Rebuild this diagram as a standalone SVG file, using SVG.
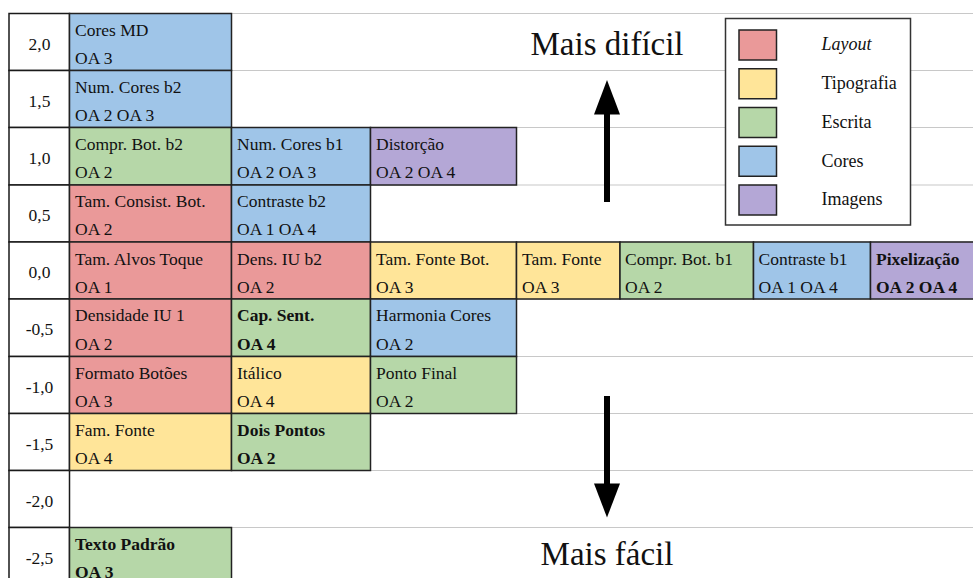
<svg xmlns="http://www.w3.org/2000/svg" width="973" height="578" viewBox="0 0 973 578">
  <defs>
    <style>
      text { font-family: "Liberation Serif", "Times New Roman", serif; fill: #111; }
      .t { font-size: 17.5px; }
      .b { font-weight: bold; }
      .lbl { font-size: 17.5px; text-anchor: middle; }
      .big { font-size: 33px; text-anchor: middle; }
      .leg { font-size: 18px; }
      .grid { stroke: #c8c8c8; stroke-width: 1.2; }
      .axis { fill: #fff; stroke: #1a1a1a; stroke-width: 1.5; }
      .cell rect { stroke: #222; stroke-width: 1.5; }
      .lay { fill: #ea9999; }
      .typ { fill: #ffe599; }
      .esc { fill: #b6d7a8; }
      .cor { fill: #9fc5e8; }
      .img { fill: #b4a7d6; }
      .sw { stroke: #222; stroke-width: 1.5; }
      .arrow { fill: #000; }
    </style>
  </defs>

  <rect width="973" height="578" fill="#fff"/>

  <!-- grid lines -->
  <g id="grid">
    <line class="grid" x1="69.5" y1="13.5" x2="973" y2="13.5"/>
    <line class="grid" x1="69.5" y1="70.5" x2="973" y2="70.5"/>
    <line class="grid" x1="69.5" y1="127.5" x2="973" y2="127.5"/>
    <line class="grid" x1="69.5" y1="185" x2="973" y2="185"/>
    <line class="grid" x1="69.5" y1="242" x2="973" y2="242"/>
    <line class="grid" x1="69.5" y1="299" x2="973" y2="299"/>
    <line class="grid" x1="69.5" y1="356.5" x2="973" y2="356.5"/>
    <line class="grid" x1="69.5" y1="413.5" x2="973" y2="413.5"/>
    <line class="grid" x1="69.5" y1="470.5" x2="973" y2="470.5"/>
    <line class="grid" x1="69.5" y1="527.5" x2="973" y2="527.5"/>
  </g>

  <!-- scale column -->
  <g id="scale">
    <rect class="axis" x="9" y="13.5" width="60.5" height="57"/>
    <rect class="axis" x="9" y="70.5" width="60.5" height="57"/>
    <rect class="axis" x="9" y="127.5" width="60.5" height="57.5"/>
    <rect class="axis" x="9" y="185" width="60.5" height="57"/>
    <rect class="axis" x="9" y="242" width="60.5" height="57"/>
    <rect class="axis" x="9" y="299" width="60.5" height="57.5"/>
    <rect class="axis" x="9" y="356.5" width="60.5" height="57"/>
    <rect class="axis" x="9" y="413.5" width="60.5" height="57"/>
    <rect class="axis" x="9" y="470.5" width="60.5" height="57"/>
    <rect class="axis" x="9" y="527.5" width="60.5" height="60"/>
    <text class="lbl" x="39.5" y="49.5">2,0</text>
    <text class="lbl" x="39.5" y="106.5">1,5</text>
    <text class="lbl" x="39.5" y="163.5">1,0</text>
    <text class="lbl" x="39.5" y="221">0,5</text>
    <text class="lbl" x="39.5" y="278">0,0</text>
    <text class="lbl" x="39.5" y="335">-0,5</text>
    <text class="lbl" x="39.5" y="392.5">-1,0</text>
    <text class="lbl" x="39.5" y="449.5">-1,5</text>
    <text class="lbl" x="39.5" y="506.5">-2,0</text>
    <text class="lbl" x="39.5" y="563.5">-2,5</text>
  </g>

  <!-- row 2,0 -->
  <g id="cores-md" class="cell">
    <rect class="cor" x="69.5" y="13.5" width="162" height="57"/>
    <text class="t" x="75" y="35.5">Cores MD</text>
    <text class="t" x="75" y="63.5">OA 3</text>
  </g>

  <!-- row 1,5 -->
  <g id="num-cores-b2" class="cell">
    <rect class="cor" x="69.5" y="70.5" width="162" height="57"/>
    <text class="t" x="75" y="92.5">Num. Cores b2</text>
    <text class="t" x="75" y="120.5">OA 2 OA 3</text>
  </g>

  <!-- row 1,0 -->
  <g id="compr-bot-b2" class="cell">
    <rect class="esc" x="69.5" y="127.5" width="162" height="57.5"/>
    <text class="t" x="75" y="149.5">Compr. Bot. b2</text>
    <text class="t" x="75" y="177.5">OA 2</text>
  </g>
  <g id="num-cores-b1" class="cell">
    <rect class="cor" x="231.5" y="127.5" width="139" height="57.5"/>
    <text class="t" x="237" y="149.5">Num. Cores b1</text>
    <text class="t" x="237" y="177.5">OA 2 OA 3</text>
  </g>
  <g id="distorcao" class="cell">
    <rect class="img" x="370.5" y="127.5" width="146" height="57.5"/>
    <text class="t" x="376" y="149.5">Distorção</text>
    <text class="t" x="376" y="177.5">OA 2 OA 4</text>
  </g>

  <!-- row 0,5 -->
  <g id="tam-consist-bot" class="cell">
    <rect class="lay" x="69.5" y="185" width="162" height="57"/>
    <text class="t" x="75" y="207">Tam. Consist. Bot.</text>
    <text class="t" x="75" y="235">OA 2</text>
  </g>
  <g id="contraste-b2" class="cell">
    <rect class="cor" x="231.5" y="185" width="139" height="57"/>
    <text class="t" x="237" y="207">Contraste b2</text>
    <text class="t" x="237" y="235">OA 1 OA 4</text>
  </g>

  <!-- row 0,0 -->
  <g id="tam-alvos-toque" class="cell">
    <rect class="lay" x="69.5" y="242" width="162" height="57"/>
    <text class="t" x="75" y="264.5">Tam. Alvos Toque</text>
    <text class="t" x="75" y="292.5">OA 1</text>
  </g>
  <g id="dens-iu-b2" class="cell">
    <rect class="lay" x="231.5" y="242" width="139" height="57"/>
    <text class="t" x="237" y="264.5">Dens. IU b2</text>
    <text class="t" x="237" y="292.5">OA 2</text>
  </g>
  <g id="tam-fonte-bot" class="cell">
    <rect class="typ" x="370.5" y="242" width="146" height="57"/>
    <text class="t" x="376" y="264.5">Tam. Fonte Bot.</text>
    <text class="t" x="376" y="292.5">OA 3</text>
  </g>
  <g id="tam-fonte" class="cell">
    <rect class="typ" x="516.5" y="242" width="103.5" height="57"/>
    <text class="t" x="522" y="264.5">Tam. Fonte</text>
    <text class="t" x="522" y="292.5">OA 3</text>
  </g>
  <g id="compr-bot-b1" class="cell">
    <rect class="esc" x="620" y="242" width="133.5" height="57"/>
    <text class="t" x="625" y="264.5">Compr. Bot. b1</text>
    <text class="t" x="625" y="292.5">OA 2</text>
  </g>
  <g id="contraste-b1" class="cell">
    <rect class="cor" x="753.5" y="242" width="117" height="57"/>
    <text class="t" x="758.5" y="264.5">Contraste b1</text>
    <text class="t" x="758.5" y="292.5">OA 1 OA 4</text>
  </g>
  <g id="pixelizacao" class="cell">
    <rect class="img" x="870.5" y="242" width="110" height="57"/>
    <text class="t b" x="876" y="264.5">Pixelização</text>
    <text class="t b" x="876" y="292.5">OA 2 OA 4</text>
  </g>

  <!-- row -0,5 -->
  <g id="densidade-iu-1" class="cell">
    <rect class="lay" x="69.5" y="299" width="162" height="57.5"/>
    <text class="t" x="75" y="321">Densidade IU 1</text>
    <text class="t" x="75" y="349.5">OA 2</text>
  </g>
  <g id="cap-sent" class="cell">
    <rect class="esc" x="231.5" y="299" width="139" height="57.5"/>
    <text class="t b" x="237" y="321">Cap. Sent.</text>
    <text class="t b" x="237" y="349.5">OA 4</text>
  </g>
  <g id="harmonia-cores" class="cell">
    <rect class="cor" x="370.5" y="299" width="146" height="57.5"/>
    <text class="t" x="376" y="321">Harmonia Cores</text>
    <text class="t" x="376" y="349.5">OA 2</text>
  </g>

  <!-- row -1,0 -->
  <g id="formato-botoes" class="cell">
    <rect class="lay" x="69.5" y="356.5" width="162" height="57"/>
    <text class="t" x="75" y="378.5">Formato Botões</text>
    <text class="t" x="75" y="406.5">OA 3</text>
  </g>
  <g id="italico" class="cell">
    <rect class="typ" x="231.5" y="356.5" width="139" height="57"/>
    <text class="t" x="237" y="378.5">Itálico</text>
    <text class="t" x="237" y="406.5">OA 4</text>
  </g>
  <g id="ponto-final" class="cell">
    <rect class="esc" x="370.5" y="356.5" width="146" height="57"/>
    <text class="t" x="376" y="378.5">Ponto Final</text>
    <text class="t" x="376" y="406.5">OA 2</text>
  </g>

  <!-- row -1,5 -->
  <g id="fam-fonte" class="cell">
    <rect class="typ" x="69.5" y="413.5" width="162" height="57"/>
    <text class="t" x="75" y="436">Fam. Fonte</text>
    <text class="t" x="75" y="464">OA 4</text>
  </g>
  <g id="dois-pontos" class="cell">
    <rect class="esc" x="231.5" y="413.5" width="139" height="57"/>
    <text class="t b" x="237" y="436">Dois Pontos</text>
    <text class="t b" x="237" y="464">OA 2</text>
  </g>

  <!-- row -2,5 -->
  <g id="texto-padrao" class="cell">
    <rect class="esc" x="69.5" y="527.5" width="162" height="60"/>
    <text class="t b" x="75" y="550">Texto Padrão</text>
    <text class="t b" x="75" y="578">OA 3</text>
  </g>

  <!-- difficulty direction -->
  <g id="connectors">
    <rect class="arrow" x="604" y="112" width="6" height="90"/>
    <polygon class="arrow" points="607,80 620,114.5 594,114.5"/>
    <rect class="arrow" x="604" y="396" width="6" height="89"/>
    <polygon class="arrow" points="594,483.5 620,483.5 607,517.5"/>
  </g>
  <g id="mais-dificil">
    <text class="big" x="607" y="55">Mais difícil</text>
  </g>
  <g id="mais-facil">
    <text class="big" x="607" y="565">Mais fácil</text>
  </g>

  <!-- legend -->
  <g id="legend">
    <rect x="725.5" y="18.5" width="185" height="206.5" fill="#fff" stroke="#333" stroke-width="1.5"/>
    <rect class="sw lay" x="739" y="30" width="37.5" height="30"/>
    <rect class="sw typ" x="739" y="68.75" width="37.5" height="30"/>
    <rect class="sw esc" x="739" y="107.5" width="37.5" height="30"/>
    <rect class="sw cor" x="739" y="146.25" width="37.5" height="30"/>
    <rect class="sw img" x="739" y="185" width="37.5" height="30"/>
    <text class="leg" x="821.5" y="50" font-style="italic">Layout</text>
    <text class="leg" x="821.5" y="89">Tipografia</text>
    <text class="leg" x="821.5" y="128">Escrita</text>
    <text class="leg" x="821.5" y="166.5">Cores</text>
    <text class="leg" x="821.5" y="205">Imagens</text>
  </g>
</svg>
